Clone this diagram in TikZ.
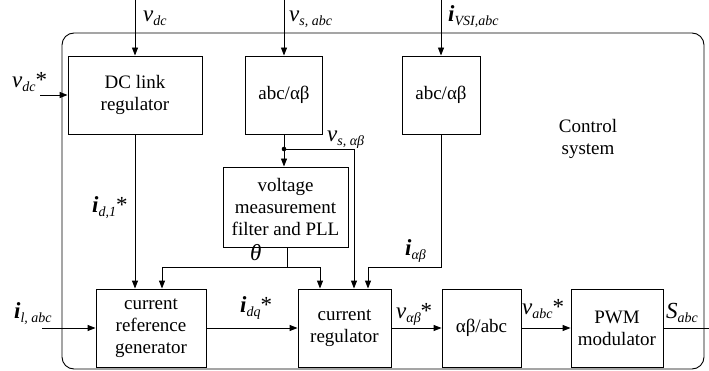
\documentclass[tikz,border=0pt]{standalone}
\usepackage{fontspec}
\setmainfont{Liberation Serif}
\usetikzlibrary{arrows.meta}
\newcommand\blkfont{\fontsize{19}{22}\selectfont}
\newcommand\lblfont{\fontsize{23}{23}\selectfont}
\newcommand\sbs[1]{\raisebox{-4pt}{\fontsize{14}{14}\selectfont\textit{#1}}}
\newcommand\bi{\textbf{\textit{i}}}
\newcommand\iv{\textit{v}}
\begin{document}
\begin{tikzpicture}[x=1pt,y=-1pt,
  blk/.style={draw, line width=0.9pt, align=center, font=\blkfont, inner sep=0pt, minimum height=78pt},
  arr/.style={line width=0.9pt, -{Triangle[length=8pt,width=6pt]}},
  ln/.style={line width=0.9pt},
  lbl/.style={font=\lblfont, inner sep=0pt}]
\useasboundingbox (0,0) rectangle (709,371);
\draw[ln, rounded corners=12pt] (62,33) rectangle (704,369);

\node[blk, minimum width=134pt] (dc) at (135,95) {DC link\\regulator};
\node[blk, minimum width=77pt] (abc1) at (284,95) {abc/αβ};
\node[blk, minimum width=78pt] (abc2) at (441,95) {abc/αβ};
\node[blk, minimum width=125pt, minimum height=80pt] (vm) at (285.5,207) {voltage\\measurement\\filter and PLL};
\node[blk, minimum width=110pt] (crg) at (151,328) {current\\reference\\generator};
\node[blk, minimum width=93pt] (cr) at (344.5,328) {current\\regulator};
\node[blk, minimum width=79pt] (ab) at (481.5,328) {αβ/abc};
\node[blk, minimum width=92pt] (pwm) at (617,328) {PWM\\modulator};
\node[font=\blkfont, align=center] (cs) at (588,139) {Control\\system};

% inputs from top
\coordinate (vdcin) at (135,0);
\draw[arr] (vdcin) -- (dc.north);
\coordinate (vsin) at (284,0);
\draw[arr] (vsin) -- (abc1.north);
\coordinate (iin) at (441,0);
\draw[arr] (iin) -- (abc2.north);
\coordinate (vdcref) at (40,95);
\draw[arr] (vdcref) -- (dc.west);

% dc -> crg
\draw[arr] (dc.south) -- (dc.south |- crg.north);

% abc1 -> vm, cr
\coordinate (dot) at (284,149);
\draw[ln] (abc1.south) -- (dot);
\draw[arr] (dot) -- (dot |- vm.north);
\coordinate (c1) at (354,149);
\draw[arr] (dot) -- (c1) -- (c1 |- cr.north);
\fill (dot) circle (2.3pt);

% theta
\coordinate (th) at (287,267);
\coordinate (thL) at (162,267);
\coordinate (thR) at (320,267);
\draw[ln] (th |- vm.south) -- (th);
\draw[arr] (th) -- (thL) -- (thL |- crg.north);
\draw[arr] (th) -- (thR) -- (thR |- cr.north);

% i alpha beta
\coordinate (ia) at (441,267);
\coordinate (ia2) at (368,267);
\draw[arr] (abc2.south) -- (ia) -- (ia2) -- (ia2 |- cr.north);

% bottom chain
\coordinate (ilin) at (42,328);
\draw[arr] (ilin) -- (crg.west);
\draw[arr] (crg.east) -- (cr.west);
\draw[arr] (cr.east) -- (ab.west);
\draw[arr] (ab.east) -- (pwm.west);
\coordinate (sout) at (709,328);
\draw[ln] (pwm.east) -- (sout);

% labels
\node[lbl, anchor=base west] (lvdc) at (143,22) {\iv\sbs{dc}};
\node[lbl, anchor=base west] (lvs) at (289,22) {\iv\sbs{s, abc}};
\node[lbl, anchor=base west] (livsi) at (448,22) {\bi\sbs{VSI,abc}};
\node[lbl, anchor=base west] (lvdcref) at (12,88) {\iv\sbs{dc}*};
\node[lbl, anchor=base west] (lid) at (92,213) {\bi\sbs{d,1}*};
\node[lbl, anchor=base west] (lvsab) at (327,142) {\iv\sbs{s, αβ}};
\node[lbl, anchor=base west] (lth) at (250,261) {\textit{θ}};
\node[lbl, anchor=base west] (liab) at (405,255) {\bi\sbs{αβ}};
\node[lbl, anchor=base west] (lil) at (14,318) {\bi\sbs{l, abc}};
\node[lbl, anchor=base west] (lidq) at (240,312) {\bi\sbs{dq}*};
\node[lbl, anchor=base west] (lvab) at (396,318) {\iv\sbs{αβ}*};
\node[lbl, anchor=base west] (lvabc) at (522,314) {\iv\sbs{abc}*};
\node[lbl, anchor=base west] (lS) at (666,318) {\textit{S}\sbs{abc}};
\end{tikzpicture}
\end{document}
